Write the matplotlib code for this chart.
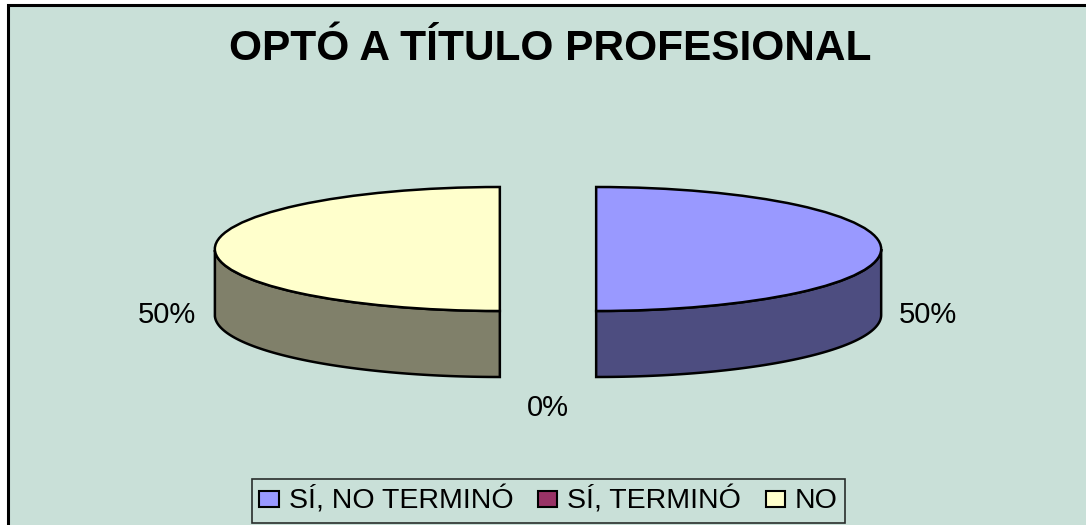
import numpy as np
import matplotlib
matplotlib.use("Agg")
import matplotlib.pyplot as plt
from matplotlib.patches import Patch, Polygon, Rectangle

categories = ["SÍ, NO TERMINÓ", "SÍ, TERMINÓ", "NO"]
values = [50, 0, 50]
colors = ["#9999FF", "#993366", "#FFFFCC"]
wall_colors = ["#4D4D80", "#4D1A33", "#80806A"]
explode = [0.169, 0.169, 0.169]

W, H = 1086, 525
BG = "#C9E0D8"

# pie geometry in pixels
CX, CY = 548, 249
RX, RY = 285, 62
DEPTH = 66

plt.rcParams["font.family"] = ["Liberation Sans", "DejaVu Sans"]

fig = plt.figure(figsize=(W / 100, H / 100), dpi=100, facecolor="white")


def px(x, y):
    return x / W, 1 - y / H


# chart area, right and bottom borders fall outside the image
fig.add_artist(Rectangle(px(8, H + 10), (W + 10) / W, (H + 10 - 5) / H,
                         transform=fig.transFigure, facecolor=BG,
                         edgecolor="black", linewidth=2.2, zorder=-1))

ax = fig.add_axes([0, 0, 1, 1])
ax.patch.set_alpha(0)
wedges, _ = ax.pie(values, explode=explode, colors=colors, startangle=90,
                   counterclock=False, radius=1,
                   wedgeprops=dict(edgecolor="black", linewidth=1.8, zorder=3))
ax.set_aspect("auto")
ax.set_xlim(-CX / RX, (W - CX) / RX)
ax.set_ylim((CY - H) / RY, CY / RY)
ax.axis("off")

# side walls of the front half of each slice
d = DEPTH / RY
for wedge, val, wc in zip(wedges, values, wall_colors):
    if val == 0:
        wedge.set_visible(False)
        continue
    t = np.radians(np.linspace(wedge.theta1, wedge.theta2, 161))
    t = t[np.sin(t) <= 1e-9]
    x = wedge.center[0] + np.cos(t)
    y = wedge.center[1] + np.sin(t)
    pts = np.concatenate([np.column_stack([x, y]),
                          np.column_stack([x[::-1], y[::-1] - d])])
    ax.add_patch(Polygon(pts, closed=True, facecolor=wc, edgecolor="black",
                         linewidth=1.8, zorder=2))

fig.text(*px(550, 60), "OPTÓ A TÍTULO PROFESIONAL", fontsize=30.5,
         fontweight="bold", ha="center", va="baseline", color="black")

label_pos = [(928, 323), (548, 416), (167, 323)]
for val, pos in zip(values, label_pos):
    fig.text(*px(*pos), "{}%".format(val), fontsize=21, ha="center",
             va="baseline", color="black")

handles = [Patch(facecolor=c, edgecolor="black", linewidth=1.5) for c in colors]
leg = fig.legend(handles, categories, ncol=3, loc="center",
                 bbox_to_anchor=px(548.5, 501), fontsize=20.5, frameon=True,
                 fancybox=False, edgecolor="black", facecolor=BG,
                 handlelength=0.67, handleheight=0.53, handletextpad=0.35,
                 columnspacing=0.87, borderpad=0.28, borderaxespad=0)
leg.get_frame().set_linewidth(1.2)
leg.get_texts()[2].set_y(1)

fig.savefig("out.png", dpi=100, facecolor=fig.get_facecolor())
